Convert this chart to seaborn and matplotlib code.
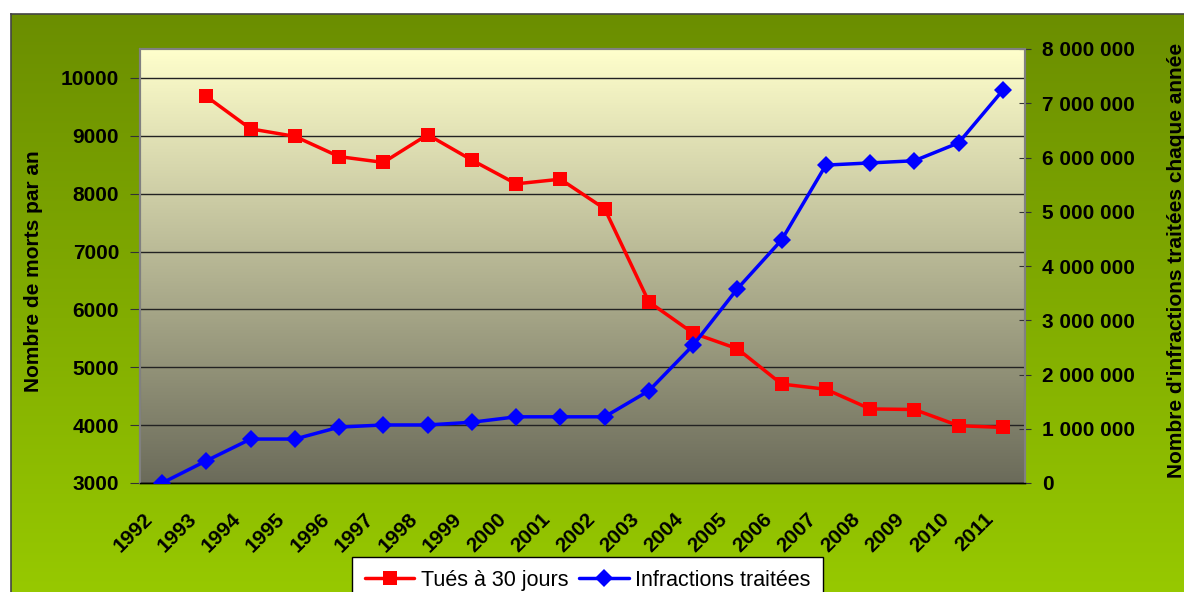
import numpy as np
import pandas as pd
import matplotlib
matplotlib.use("Agg")
import matplotlib.pyplot as plt
import matplotlib.transforms as mtransforms
from matplotlib.colors import LinearSegmentedColormap
from matplotlib.ticker import FuncFormatter
import seaborn as sns

sns.set_style("white")
plt.rcParams['font.family'] = ['Liberation Sans', 'DejaVu Sans']
plt.rcParams['text.color'] = 'black'
plt.rcParams['xtick.color'] = 'black'
plt.rcParams['ytick.color'] = 'black'
plt.rcParams['axes.labelcolor'] = 'black'

# données
annees = [str(a) for a in range(1992, 2012)]
tues_30j = [np.nan, 9680, 9120, 8990, 8640, 8540, 9020, 8580, 8170, 8250,
            7740, 6130, 5590, 5320, 4710, 4620, 4280, 4270, 3990, 3960]
infractions = [0, 410000, 810000, 810000, 1030000, 1070000, 1070000, 1120000,
               1220000, 1220000, 1220000, 1700000, 2540000, 3580000, 4480000,
               5860000, 5900000, 5940000, 6270000, 7240000]

df = pd.DataFrame({"pos": np.arange(len(annees)), "annee": annees,
                   "tues": tues_30j, "infr": infractions})

fig = plt.figure(figsize=(11.84, 5.92), dpi=100)
fig.patch.set_facecolor("white")

# fond vert dégradé (déborde à droite et en bas comme l'original)
W, H = 1184, 592
bg = fig.add_axes([11 / W, -0.05, 1.0, (H - 14) / H + 0.05], zorder=-10)
cmap_bg = LinearSegmentedColormap.from_list("bg", ["#6B8E00", "#99CC00"])
bg.imshow(np.linspace(0, 1, 256).reshape(-1, 1), cmap=cmap_bg, aspect="auto",
          extent=[0, 1, 0, 1])
bg.set_xticks([]); bg.set_yticks([])
for s in bg.spines.values():
    s.set_color("#444444")
    s.set_linewidth(1.2)

ax = fig.add_axes([140 / W, (H - 483) / H, 885 / W, 434 / H])
ax.set_facecolor("none")
cmap_pl = LinearSegmentedColormap.from_list("pl", ["#FFFFCC", "#6B6B5A"])
ax.imshow(np.linspace(0, 1, 256).reshape(-1, 1), cmap=cmap_pl, aspect="auto",
          extent=[0, 1, 0, 1], transform=ax.transAxes, zorder=0)

ax2 = ax.twinx()

sns.lineplot(data=df, x="pos", y="tues", ax=ax, color="#FF0000", marker="s",
             markersize=10, markeredgewidth=0, linewidth=2.5, zorder=5,
             label="Tués à 30 jours", legend=False)
sns.lineplot(data=df, x="pos", y="infr", ax=ax2, color="#0000FF", marker="D",
             markersize=9, markeredgewidth=0, linewidth=2.5, zorder=5,
             label="Infractions traitées", legend=False)

ax.set_xlim(-0.5, len(annees) - 0.5)
ax.set_ylim(3000, 10500)
ax2.set_ylim(0, 8000000)

ax.set_yticks(range(3000, 10001, 1000))
ax.grid(axis="y", color="#222222", linewidth=1, zorder=1)
ax.set_axisbelow(False)
ax.grid(axis="x", visible=False)

ax.set_xticks(df["pos"])
ax.set_xticklabels(annees, rotation=45, ha="right", fontsize=15,
                   fontweight="bold")
ax.set_xticks(np.arange(-0.5, len(annees)), minor=True)
ax.tick_params(axis="x", which="major", length=0, pad=19)
ax.tick_params(axis="x", which="minor", length=7, direction="inout",
               color="black", width=1)
offset = mtransforms.ScaledTranslation(-0.06, 0, fig.dpi_scale_trans)
for lab in ax.get_xticklabels():
    lab.set_transform(lab.get_transform() + offset)

ax.tick_params(axis="y", length=7, direction="out", pad=8, labelsize=15,
               color="#333333", left=True)
for lab in ax.get_yticklabels():
    lab.set_fontweight("bold")

ax2.set_yticks(range(0, 8000001, 1000000))
ax2.yaxis.set_major_formatter(FuncFormatter(
    lambda v, p: f"{int(v):,}".replace(",", " ")))
ax2.tick_params(axis="y", length=9, direction="inout", pad=8, labelsize=15,
                color="#333333", right=True)
for lab in ax2.get_yticklabels():
    lab.set_fontweight("bold")

for a in (ax, ax2):
    for side in ("top", "left", "right"):
        a.spines[side].set_color("#808080")
        a.spines[side].set_linewidth(1.5)
    a.spines["bottom"].set_color("black")
    a.spines["bottom"].set_linewidth(1)
    a.set_xlabel("")

ax.set_ylabel("")
ax2.set_ylabel("")
fig.text(34 / W, 1 - 271 / H, "Nombre de morts par an", rotation=90,
         ha="center", va="center", fontsize=15, fontweight="bold")
fig.text(1176 / W, 1 - 260 / H, "Nombre d'infractions traitées chaque année",
         rotation=90, ha="center", va="center", fontsize=15,
         fontweight="bold")

h1, l1 = ax.get_legend_handles_labels()
h2, l2 = ax2.get_legend_handles_labels()
leg = fig.legend(h1 + h2, l1 + l2, loc="upper left",
                 bbox_to_anchor=(352 / W, 1 - 557 / H), ncol=2,
                 fontsize=15.5, frameon=True, fancybox=False, framealpha=1,
                 edgecolor="black", borderpad=0.6, handlelength=2.3,
                 handletextpad=0.3, columnspacing=0.5, borderaxespad=0)
leg.get_frame().set_linewidth(1)

fig.savefig("out.png", dpi=100, facecolor=fig.get_facecolor())
